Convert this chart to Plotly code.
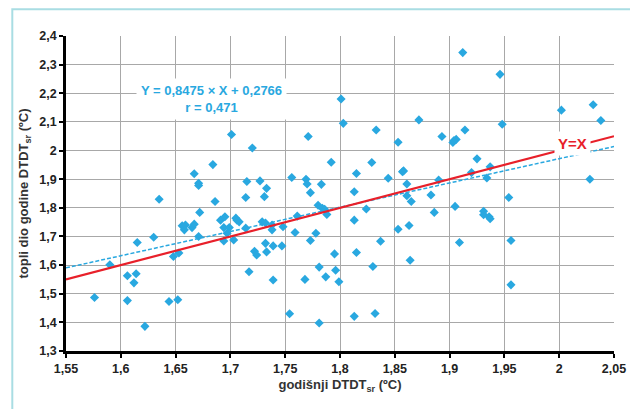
import plotly.graph_objects as go

x_vals = [1.576, 1.590, 1.606, 1.606, 1.612, 1.614, 1.615, 1.622, 1.630, 1.635,
          1.644, 1.648, 1.652, 1.653, 1.656, 1.658, 1.659, 1.665, 1.667, 1.667,
          1.671, 1.671, 1.671, 1.672, 1.684, 1.686, 1.691, 1.694, 1.695, 1.694,
          1.697, 1.699, 1.701, 1.703, 1.705, 1.706, 1.708, 1.714, 1.714, 1.715,
          1.717, 1.720, 1.722, 1.724, 1.727, 1.729, 1.731, 1.732, 1.732, 1.733,
          1.733, 1.738, 1.738, 1.739, 1.739, 1.747, 1.748, 1.756, 1.754, 1.759,
          1.761, 1.768, 1.769, 1.770, 1.771, 1.773, 1.773, 1.778, 1.780, 1.781,
          1.781, 1.783, 1.784, 1.786, 1.787, 1.788, 1.792, 1.795, 1.796, 1.799,
          1.801, 1.803, 1.813, 1.813, 1.813, 1.815, 1.815, 1.824, 1.829, 1.830,
          1.832, 1.833, 1.837, 1.844, 1.853, 1.853, 1.857, 1.858, 1.861, 1.861,
          1.863, 1.864, 1.865, 1.872, 1.883, 1.886, 1.890, 1.893, 1.903, 1.904,
          1.906, 1.905, 1.909, 1.912, 1.914, 1.920, 1.925, 1.931, 1.931, 1.934,
          1.936, 1.937, 1.937, 1.946, 1.948, 1.954, 1.956, 1.956, 2.002, 2.028,
          2.031, 2.038]
y_vals = [1.487, 1.601, 1.476, 1.563, 1.538, 1.570, 1.679, 1.386, 1.697, 1.830,
          1.473, 1.630, 1.479, 1.642, 1.737, 1.723, 1.740, 1.731, 1.743, 1.919,
          1.886, 1.878, 1.700, 1.784, 1.951, 1.822, 1.757, 1.684, 1.769, 1.731,
          1.711, 1.731, 2.056, 1.688, 1.764, 1.757, 1.751, 1.836, 1.729, 1.892,
          1.577, 2.009, 1.648, 1.635, 1.894, 1.751, 1.839, 1.747, 1.676, 1.646,
          1.868, 1.740, 1.723, 1.667, 1.548, 1.667, 1.734, 1.906, 1.430, 1.714,
          1.771, 1.550, 1.900, 1.883, 2.049, 1.686, 1.853, 1.711, 1.809, 1.398,
          1.593, 1.882, 1.798, 1.795, 1.559, 1.777, 1.959, 1.639, 1.582, 1.542,
          2.180, 2.095, 1.757, 1.856, 1.421, 1.644, 1.920, 1.796, 1.958, 1.595,
          1.431, 2.072, 1.683, 1.903, 1.725, 2.029, 1.926, 1.929, 1.842, 1.883,
          1.738, 1.617, 1.822, 2.107, 1.845, 1.784, 1.897, 2.049, 2.028, 2.035,
          2.039, 1.805, 1.679, 2.342, 2.072, 1.923, 1.971, 1.788, 1.776, 1.904,
          1.769, 1.762, 1.943, 2.266, 2.092, 1.836, 1.686, 1.531, 2.141, 1.900,
          2.160, 2.105]

slope = 0.8475
intercept = 0.2766
line_x = [1.55, 2.05]
eq_text = "Y = 0,8475 × X + 0,2766<br>r = 0,471"
yx_text = "Y=X"
x_title = "godišnji DTDT<sub>sr</sub> (ºC)"
y_title = "topli dio godine DTDT<sub>sr</sub> (ºC)"

BLUE = "#29a8e0"
RED = "#e8202a"
FONT = "Liberation Sans, Arial"

fig = go.Figure()
fig.add_trace(go.Scatter(x=x_vals, y=y_vals, mode="markers",
                         marker=dict(symbol="diamond", size=7, color=BLUE),
                         showlegend=False, hoverinfo="skip"))
fig.add_trace(go.Scatter(x=line_x, y=[slope * v + intercept for v in line_x],
                         mode="lines", line=dict(color=BLUE, width=1.5, dash="4px,2px"),
                         showlegend=False))
fig.add_trace(go.Scatter(x=line_x, y=line_x, mode="lines",
                         line=dict(color=RED, width=2.2), showlegend=False))

fig.add_annotation(x=1.6825, y=2.18, xref="x", yref="y", text=eq_text,
                   showarrow=False, bgcolor="white", borderpad=4,
                   font=dict(family=FONT, size=13, color=BLUE, weight="bold"))
fig.add_annotation(x=2.012, y=2.023, xref="x", yref="y", text=yx_text,
                   showarrow=False, bgcolor="white", borderpad=3,
                   font=dict(family=FONT, size=15, color=RED, weight="bold"))

fig.add_shape(type="rect", xref="paper", yref="paper",
              x0=-0.098, x1=1.0327, y0=-0.2, y1=1.085,
              line=dict(color="#a9dde3", width=2))

axis_common = dict(showgrid=True, gridcolor="#a8a8a8", gridwidth=1,
                   showline=True, linecolor="black", linewidth=2.5,
                   ticks="outside", tickcolor="black", ticklen=4, tickwidth=2,
                   zeroline=False,
                   tickfont=dict(family=FONT, size=12.5, color="#222", weight="bold"))

fig.update_xaxes(range=[1.55, 2.05], dtick=0.05, tick0=1.55,
                 title=dict(text=x_title, standoff=6,
                            font=dict(family=FONT, size=13, color="#333", weight="bold")),
                 **axis_common)
fig.update_yaxes(range=[1.3, 2.4], dtick=0.1, tick0=1.3,
                 title=dict(text=y_title, standoff=8,
                            font=dict(family=FONT, size=13, color="#333", weight="bold")),
                 **axis_common)

fig.update_layout(width=630, height=401, separators=",.",
                  margin=dict(l=58, r=21, t=28, b=58),
                  plot_bgcolor="white", paper_bgcolor="white")

fig.write_html("out.html")
